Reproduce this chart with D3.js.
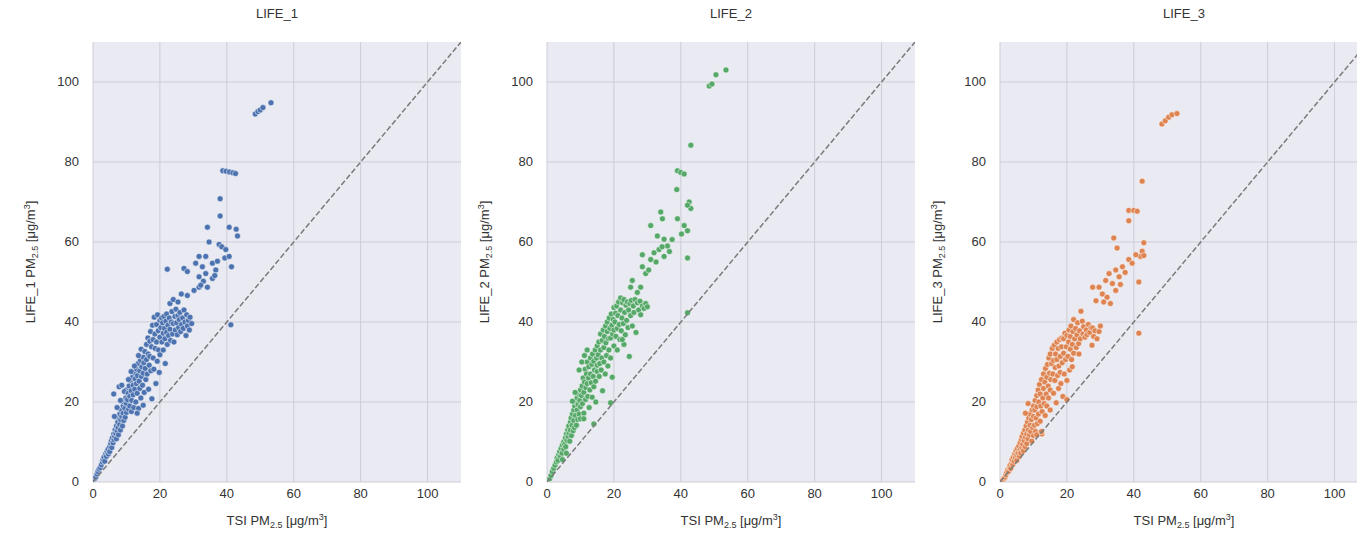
<!DOCTYPE html>
<html>
<head>
<meta charset="utf-8">
<script src="https://cdn.jsdelivr.net/npm/d3@7"></script>
<style>
  body { margin: 0; background: #fff; }
  svg text { font-family: "Liberation Sans", Arial, sans-serif; fill: #333; }
</style>
</head>
<body>
<svg id="chart" width="1357" height="540"></svg>
<script>
// panels, one per LIFE sensor
var sensors = ['LIFE_1', 'LIFE_2', 'LIFE_3'];
var colors = ['#4C72B0', '#55A868', '#DD8452'];
var ticks = [0, 20, 40, 60, 80, 100];

// [TSI PM2.5, LIFE PM2.5]
var life1Points = [
  [0.5,0.8],[0.8,1.2],[1.2,2],[1.5,2.6],[1.8,3.2],[2.2,3.6],[2.5,4.3],[2.8,5],[3,5.6],[3.3,6.2],[3.5,5.2],[3.8,7],[4,6.4],[4.2,7.6],[4.5,8.2],[4.6,7],[5,8.8],[5,7.6],[5.3,9.6],[5.5,10.4],[5.6,8.6],[5.8,11],[6,9.8],[6.2,12],[6.3,10.6],[6.5,11.4],[6.6,13],[6.8,12.2],[7,14],[7,10.8],[7.2,12.8],[7.4,15],[7.5,13.6],[7.6,11.8],[7.8,16],[8,14.4],[8,17],[8.2,13],[8.3,15.6],[8.5,18],[8.6,16.4],[8.8,14],[9,19],[9,17.2],[9.2,15.4],[9.3,20],[9.5,18.4],[9.6,16.2],[9.8,21],[10,19.6],[10,17.4],[10,23],[6.2,22],[7.8,23.8],[8.6,24.2],[9.4,22.6],[8.2,20.4],[7.2,18.6],[6.4,16.4],
  [10.3,20.6],[10.5,22.2],[10.6,18.2],[10.8,24],[11,21.4],[11,19],[11.2,25.4],[11.4,22.8],[11.5,17.6],[11.6,20.4],[11.8,26.2],[12,24.2],[12,21.8],[12.2,18.6],[12.3,27.4],[12.5,23.2],[12.6,25.8],[12.8,20],[13,28.2],[13,24.6],[13.2,22.2],[13.3,26.6],[13.5,29.6],[13.6,18.4],[13.8,25.2],[14,27.8],[14,23.4],[14.2,30.4],[14.3,21],[14.5,26.4],[14.6,28.8],[14.8,24.2],[15,31.2],[15,27.2],[15,19.2],[15.2,29.8],[15.3,22.4],[11.4,27.6],[10.6,25.6],[12.4,29],[13.6,31.6],[14.4,33.2],[13.2,17.2],
  [15.5,32.6],[15.6,28.4],[15.8,25.6],[16,34.4],[16,30.6],[16.2,27],[16.4,36],[16.5,32],[16.6,23.2],[16.8,29.2],[17,35.2],[17,31.4],[17.2,37.6],[17.3,27.8],[17.5,33.8],[17.6,20.8],[17.8,39.2],[18,35.6],[18,31],[18.2,28.2],[18.3,41.2],[18.5,37],[18.6,33.4],[18.8,24.6],[19,39.4],[19,35],[19.2,30.2],[19.3,41.8],[19.5,37.8],[19.6,33],[19.8,27.4],[20,40.4],[20,36.2],[20,31.8],
  [20.3,38.6],[20.5,41],[20.6,35],[20.8,39.8],[21,37.2],[21,33],[21.2,41.4],[21.4,38.4],[21.5,35.8],[21.6,29.6],[21.8,40.2],[22,37.4],[22,42],[22.2,34.4],[22.4,39.2],[22.6,36.6],[22.8,41],[23,38.2],[23,44.6],[23.2,35.4],[23.4,40],[23.6,42.6],[23.8,37],[24,39.6],[24,45.6],[24.2,35],[24.5,41.4],[24.6,38],[24.8,43.2],[25,39.8],[25.2,36.8],[25.4,41.6],[25.6,38.6],[25.8,40.6],[26,42.4],[26.2,37.6],[26.5,39.4],[26.8,41],[27,38.4],[27.2,43],[27.5,40],[27.8,36.6],[28,41.8],[28.2,39],[28.5,40.4],[28.8,38],[29,41.2],[29.5,39.6],[22.2,53.2],[27.2,53.4],[28.2,52.6],[28.2,46.6],[26.4,47],[25.4,45],
  [30.2,47.9],[31.7,48.7],[31.7,51.3],[33.7,52.1],[30.7,54.7],[32.7,53.8],[31.7,56.4],[33.7,56.4],[35.7,54.7],[36.7,53],[35.7,50.9],[34.2,48.7],[34.7,60],[34.2,63.7],[37.7,59.4],[38.5,58.8],[39.7,58.1],[39.4,56],[40.7,56.4],[41.4,53.8],[40.7,63.7],[43.2,61.5],[42.8,63.2],[38,66.5],[38,70.8],[41.2,39.3],[36.4,51.6],[37.2,55.2],[33,50.2],[32.2,49.2],
  [38.8,77.8],[39.8,77.7],[40.8,77.5],[41.8,77.3],[42.6,77.1],[48.5,92],[49.3,92.6],[50,93],[50.8,93.6],[53.2,94.8]
];

var life2Points = [
  [0.8,0.8],[1.2,1.6],[1.6,2.6],[2,3.4],[2.4,4.2],[2.8,5],[3,6],[3.3,5.4],[3.5,6.8],[3.8,7.6],[4,6.4],[4.2,8.4],[4.5,7.2],[4.6,9.2],[5,8.2],[5,10],[5.3,9.4],[5.5,11],[5.6,8.8],[5.8,12],[6,10.4],[6.2,13],[6.3,11.4],[6.5,14],[6.6,12.2],[6.8,10.2],[7,15],[7,13],[7.2,16],[7.3,11.6],[7.5,14.2],[7.6,17],[7.8,12.8],[8,18],[8,15.4],[8.2,13.6],[8.3,19],[8.5,16.6],[8.6,20],[8.8,14.2],[9,18],[9,21],[9.2,15.6],[9.3,19.4],[9.5,22],[9.6,17],[9.8,20.4],[10,23],[10,18.8],[10,15.8],[7.6,20.2],[8.4,22.4],[5.8,7.2],[4.6,5.6],
  [10.3,21.6],[10.5,24],[10.6,19.6],[10.8,26],[11,22.4],[11,17.2],[11.2,25],[11.4,28.2],[11.5,20.6],[11.6,23.6],[11.8,27],[12,24.6],[12,30],[12.2,21.4],[12.4,26],[12.5,28.8],[12.6,18.6],[12.8,23],[13,31],[13,27],[13.2,24.8],[13.4,29.4],[13.5,21.2],[13.6,32],[13.8,26.4],[14,30.2],[14,23.8],[14.2,28],[14.4,33],[14.5,25.2],[14.6,20],[14.8,31],[15,27.6],[15,34],[15,29.2],[11,15.8],[14,14.5],[9.6,28],[10.4,30],[12,33],[11.2,31.6],
  [15.3,31.8],[15.5,35],[15.6,26.4],[15.8,29.6],[16,33],[16,37],[16.2,28],[16.4,31],[16.5,35.4],[16.6,22.8],[16.8,38],[17,33.6],[17,30],[17.2,36.4],[17.4,27],[17.5,39],[17.6,34.8],[17.8,31.6],[18,37.6],[18,40],[18.2,29],[18.4,35.8],[18.5,33],[18.6,41],[18.8,38.4],[19,36],[19,31],[19.2,42],[19.4,39.2],[19.5,26.2],[19.6,37],[19.8,40.6],[20,34],[20,43.6],[20,38],[19,19.8],
  [20.3,40],[20.5,42.2],[20.6,36.4],[20.8,44],[21,38.4],[21,33],[21.2,41.6],[21.4,45],[21.6,39.4],[21.8,35.6],[22,43],[22,46],[22.2,37.8],[22.4,41],[22.6,44.8],[22.8,39.6],[23,45.6],[23,34.4],[23.2,42.4],[23.4,36.8],[23.6,44.2],[23.8,40.4],[24,45],[24.2,38.6],[24.4,43],[24.6,31.4],[24.8,44.6],[25,41.6],[25.2,45.4],[25.5,39],[25.8,44],[26,42.4],[26.3,45.6],[26.6,37.4],[27,44.8],[27.4,43],[27.8,45.2],[28,41.8],[28.5,44],[29,43.4],[29.5,44.6],[30,43.8],[22.5,35.6],[25.5,50.4],[25,48.7],[28,48.7],[28.5,53.8],[29.5,52.1],[28.5,56.8],[27,47.4],
  [31,55.6],[32,57.3],[33.5,58.1],[35,56.4],[36,59],[35,60.7],[33,61.5],[31,64.1],[34,67.5],[34.5,65.8],[39,65.8],[41,64.1],[42,62.8],[42.5,70],[43,68.4],[42,69.2],[38.8,73.1],[39,77.8],[40,77.4],[41,77],[43,84.2],[42,56],[42,42.3],[32.6,55],[34.4,58.8],[36.6,57.6],[37.4,60.6],[30.4,53],[40.2,62],
  [48.5,99],[49.3,99.5],[50.5,101.8],[53.5,103]
];

var life3Points = [
  [0.3,0.2],[0.6,0.4],[0.9,0.6],[1.2,0.9],[1.5,1.2],[1.8,1.8],[2,2.4],[2.3,3],[2.5,2.6],[2.8,3.6],[3,4.2],[3.2,3.4],[3.5,4.8],[3.6,5.6],[3.8,4.4],[4,6.2],[4.2,5.2],[4.4,7],[4.6,6],[4.8,7.8],[5,5.4],[5,6.8],[5.2,8.4],[5.4,7.2],[5.6,9],[5.8,6.4],[6,8],[6,9.8],[6.2,7.2],[6.4,10.6],[6.5,8.6],[6.6,11.4],[6.8,9.4],[7,12.2],[7,7.8],[7.2,10.4],[7.4,13],[7.5,8.8],[7.6,11.2],[7.8,14],[8,12],[8,9.6],[8.2,15],[8.4,10.8],[8.5,13],[8.6,16],[8.8,11.8],[9,14.2],[9,17],[9.2,12.6],[9.4,15.6],[9.5,10.2],[9.6,18],[9.8,13.6],[10,16.4],[10,19],[10,11.6],[8.4,19.6],[7.6,17.2],
  [10.3,14.2],[10.4,18],[10.5,20.4],[10.6,12.6],[10.8,16],[11,21.6],[11,18.8],[11.2,14.6],[11.4,23],[11.5,17],[11.6,20],[11.8,24.4],[12,15.2],[12,22],[12.2,19],[12.4,25.6],[12.5,12],[12.6,17.6],[12.8,21],[13,27],[13,23.4],[13.2,19.6],[13.4,25],[13.5,16.6],[13.6,28.4],[13.8,22],[14,26.2],[14,19],[14.2,29.4],[14.4,24],[14.5,21],[14.6,31],[14.8,27.2],[15,23],[15,32],[15,18],[15.2,25.6],[15.4,29.6],[11,11.8],[12.4,12.6],
  [15.6,33.4],[15.8,27],[16,30.4],[16,22.2],[16.2,34.2],[16.4,25.4],[16.5,28.6],[16.6,32],[16.8,19.8],[17,30.6],[17,35],[17.2,26.6],[17.4,33.4],[17.5,23.4],[17.6,29],[17.8,35.6],[18,31.4],[18,27.4],[18.2,24.6],[18.4,33.8],[18.5,36],[18.6,29.8],[18.8,21.4],[19,32.2],[19,35.8],[19.2,27],[19.4,37.2],[19.6,30.6],[19.8,33.8],[20,25.4],[20,36.6],[20,20.6],
  [20.3,31.4],[20.5,35],[20.6,38],[20.8,28],[21,33.2],[21,36.4],[21.2,39],[21.4,30.6],[21.6,34.4],[21.8,37.6],[22,32.2],[22,40.6],[22.3,35.8],[22.6,38.4],[22.8,33.6],[23,36.8],[23.2,39.8],[23.5,34.6],[23.8,37.8],[24,35.8],[24.2,42.7],[24.6,40.2],[24.8,37],[25,38.8],[25.4,36.2],[25.8,38],[26,36.8],[26.4,39.4],[26.8,37.4],[27.2,38.6],[27.7,38.5],[28,36.4],[28.4,37.8],[29,35.8],[29.6,37.6],[30,39],[23.6,32],[21.6,28.8],[27.5,34.2],[28.7,45.3],[29.6,48.7],[27.7,48.7],
  [30.6,47],[32,46.2],[31.6,50.4],[32.6,52.1],[33.6,49.6],[34.6,53],[34.6,47.9],[35.6,51.3],[36.6,53.8],[38.5,55.6],[39.5,54.7],[34,61],[35,58.5],[38.5,67.9],[40,67.9],[41,67.7],[38.5,65.3],[42.5,75.2],[43,59.8],[42.5,57.7],[42,56.4],[41.5,50],[41.5,37.2],[37.4,52.4],[33,44.6],[31,45],[36,49.4],[40.6,56.8],[43,56.6],
  [48.4,89.5],[49.4,90.3],[50.4,91.2],[51.4,91.8],[52.9,92.1]
];

var allPoints = [life1Points, life2Points, life3Points];

var svg = d3.select('#chart');
var panelLeft = [93, 547, 1000],
    plotW = 368,
    plotTop = 42,
    plotH = 440;

sensors.forEach(function(name, i) {
  var x = d3.scaleLinear().domain([0, 110]).range([0, plotW]);
  var y = d3.scaleLinear().domain([0, 110]).range([plotH, 0]);

  var g = svg.append('g')
    .attr('transform', 'translate(' + panelLeft[i] + ',' + plotTop + ')');

  g.append('clipPath').attr('id', 'clip' + i)
    .append('rect').attr('width', plotW).attr('height', plotH);

  g.append('rect')
    .attr('width', plotW)
    .attr('height', plotH)
    .attr('fill', '#EAEAF2');

  // grid
  g.selectAll('.gx').data(ticks).enter().append('line')
    .attr('x1', d => x(d)).attr('x2', d => x(d))
    .attr('y1', 0).attr('y2', plotH)
    .attr('stroke', '#cdcdd8').attr('stroke-width', 1);
  g.selectAll('.gy').data(ticks).enter().append('line')
    .attr('x1', 0).attr('x2', plotW)
    .attr('y1', d => y(d)).attr('y2', d => y(d))
    .attr('stroke', '#cdcdd8').attr('stroke-width', 1);

  var plot = g.append('g').attr('clip-path', 'url(#clip' + i + ')');

  plot.selectAll('circle')
    .data(allPoints[i])
    .enter()
    .append('circle')
    .attr('cx', d => x(d[0]))
    .attr('cy', d => y(d[1]))
    .attr('r', 3)
    .attr('fill', colors[i])
    .attr('stroke', '#fff')
    .attr('stroke-width', 0.5);

  // 1:1 line
  plot.append('line')
    .attr('x1', x(0)).attr('y1', y(0))
    .attr('x2', x(110)).attr('y2', y(110))
    .attr('stroke', '#7a7a7a')
    .attr('stroke-width', 1.5)
    .attr('stroke-dasharray', '5.5,2.4');

  // tick labels
  g.selectAll('.xt').data(ticks).enter().append('text')
    .attr('x', d => x(d)).attr('y', plotH + 16)
    .attr('text-anchor', 'middle')
    .style('font-size', '13px')
    .text(d => d);
  g.selectAll('.yt').data(ticks).enter().append('text')
    .attr('x', -14).attr('y', d => y(d) + 4)
    .attr('text-anchor', 'end')
    .style('font-size', '13px')
    .text(d => d);

  // title
  g.append('text')
    .attr('x', plotW / 2).attr('y', -24)
    .attr('text-anchor', 'middle')
    .style('font-size', '13px')
    .text(name);

  // x label
  var xl = g.append('text')
    .attr('x', plotW / 2).attr('y', plotH + 43)
    .attr('text-anchor', 'middle')
    .style('font-size', '13px');
  xl.append('tspan').text('TSI PM');
  xl.append('tspan').attr('dy', 3).style('font-size', '9px').text('2.5');
  xl.append('tspan').attr('dy', -3).text(' [μg/m');
  xl.append('tspan').attr('dy', -5).style('font-size', '9px').text('3');
  xl.append('tspan').attr('dy', 5).text(']');

  // y label
  var yl = g.append('text')
    .attr('transform', 'translate(-58,' + (plotH / 2) + ') rotate(-90)')
    .attr('text-anchor', 'middle')
    .style('font-size', '13px');
  yl.append('tspan').text(name + ' PM');
  yl.append('tspan').attr('dy', 3).style('font-size', '9px').text('2.5');
  yl.append('tspan').attr('dy', -3).text(' [μg/m');
  yl.append('tspan').attr('dy', -5).style('font-size', '9px').text('3');
  yl.append('tspan').attr('dy', 5).text(']');
});
</script>
</body>
</html>
